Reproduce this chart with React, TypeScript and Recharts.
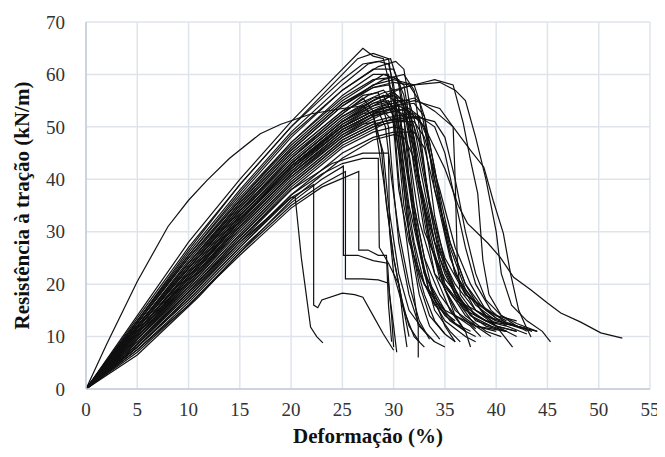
import React from "react";
import { LineChart, Line, XAxis, YAxis, CartesianGrid } from "recharts";

// Each curve: flat list of [strain %, strength kN/m] pairs
const LEFT_CURVE: number[] = [0,0, 2,8.5, 5,20.5, 8,31, 10,36, 11.8,39.8, 14,44, 17,48.7, 19,50.5, 22,52.5, 25,53.5, 27,54, 28,52, 29,45, 29.5,35, 30.5,22, 31.5,15, 33,11, 34,9];

const HIGH_PEAK_CURVES: number[][] = [
  [0,0, 5,14, 10,28, 15,40, 20,51, 24,59, 27,65, 28,63.5, 29,63, 30,55, 31,40, 32,28, 33,20, 35,14, 37,11],
  [0,0, 5,13.5, 10,27, 15,39, 20,50, 24,58, 26.5,63, 28,64, 29.5,63, 30.5,50, 31.5,35, 33,22, 35,15, 38,12, 41,11],
  [0,0, 5,13, 10,26, 15,38, 20,49, 25,58, 27.5,62, 29.7,63, 30.5,58, 31.5,45, 32.5,32, 34,22, 36,17, 39,13, 42,12, 43,11],
  [0,0, 5,13, 10,25.5, 15,37, 20,48, 25,57, 28,61, 30,61, 31,56, 32,42, 33,30, 35,21, 37,16, 40,13],
  [0,0, 5,12.5, 10,25, 15,36.5, 20,47, 25,56, 28,60, 29.5,60, 30,50, 30.5,38, 31.5,28, 33,20, 35,15],
  [0,0, 5,12.5, 10,25, 15,36, 20,46.5, 25,55, 29,60, 30.5,59, 31.5,48, 32.5,38, 34,28, 36,20, 38,15, 40,12.5],
  [0,0, 5,12, 10,24, 15,35.5, 20,46, 25,54.5, 29,59, 31,60, 32,57, 32.5,50, 33.5,35, 35,25, 37,18, 40,14, 42,13],
  [0,0, 5,12, 10,24, 15,35, 20,45.5, 25,54, 28,58, 30,59, 32,58, 33,52, 34,38, 35.5,25, 37,18, 39,15, 41,13],
  [0,0, 5,13, 10,26.5, 15,39, 20,50, 25,59, 27,62, 28.5,62.5, 29.5,62, 30,58, 30.8,45, 31.5,32, 32.5,22, 34,16, 36,13],
  [0,0, 5,12.5, 10,25.5, 15,37.5, 20,48.5, 25,57, 28.5,61.5, 30.2,62.5, 31,61, 31.5,55, 32.5,40, 33.5,28, 35,20, 37,15, 39,13, 41,12],
  [0,0, 5,12, 10,24.5, 15,36, 20,47, 25,55.5, 28,59, 30,59.5, 31,58, 31.5,52, 32.5,40, 33.5,28, 35,19, 36.5,14, 38,11.5],
  [0,0, 5,11.5, 10,23.5, 15,35, 20,45.5, 25,54, 28,57.5, 30,58.5, 31.5,58, 32.5,55, 33.5,45, 34.5,35, 35.5,27, 37,19, 39,14, 41,12.5, 43,11.5],
];

const MID_PEAK_CURVES: number[][] = [
  [0,0, 5,11.5, 10,23, 15,34, 20,44, 24,51, 26,54, 27,55.5, 28,53, 29,40, 30,25, 31,15, 32,10, 33,8],
  [0,0, 5,11, 10,22.5, 15,33.5, 20,43.5, 25,51.5, 28,55, 29,56, 30,52, 30.5,40, 31.5,25, 32.4,12, 32.4,6],
  [0,0, 5,11, 10,22, 15,33, 20,43, 25,51, 28,54.5, 30,56, 31,54, 32,45, 33,32, 34,22, 35.5,15, 37,11, 38,10],
  [0,0, 5,10.5, 10,21.5, 15,32.5, 20,42.5, 25,50.5, 28,54, 30,55, 31.5,55, 32.5,48, 33.5,35, 34.5,25, 36,18, 38,14, 40,12, 42,11],
  [0,0, 5,10.5, 10,21, 15,32, 20,42, 25,50, 28,53, 30,54, 32,54.5, 33,52, 34,42, 35,30, 36,22, 38,16, 40,13, 43,11.5],
  [0,0, 5,10, 10,20.5, 15,31.5, 20,41.5, 25,49.5, 28,52.5, 30,53.5, 31,52, 31.5,40, 32.5,28, 33.5,18, 35,13, 37,10, 38,9],
  [0,0, 5,10, 10,20, 15,31, 20,41, 25,49, 28,52, 30,53, 31,52.5, 32,48, 33,38, 34,28, 35,20, 37,14, 39,11, 40.5,10],
  [0,0, 5,9.5, 10,19.5, 15,30, 20,40, 25,48, 28,51, 30,52, 32,52.5, 33,50, 34,40, 35,30, 36,22, 38,15, 40,12, 41.6,8],
  [0,0, 5,9.5, 10,19, 15,29.5, 20,39.5, 25,47.5, 28,50.5, 30,51.5, 31.5,51, 32,45, 33,35, 34,26, 35,19, 36,14, 37,11, 37.5,8],
  [0,0, 5,9, 10,18.5, 15,29, 20,39, 25,47, 28,50, 30,51, 32,51, 33,48, 34.5,38, 36,27, 37.5,20, 39,15, 41,12, 43,10.5],
  [0,0, 5,8.5, 10,18, 15,28, 20,38, 25,46, 28,49, 30,50, 31,49.5, 31.5,44, 32,35, 33,25, 34,17, 35,12, 36,9],
  [0,0, 5,8, 10,17.5, 15,27.5, 20,37, 25,45, 28,48, 30,49, 32,49, 33,46, 34,38, 35.5,28, 37,20, 38.5,15, 40,12, 42,10],
  [0,0, 5,6.5, 11,17.6, 15,26, 20,36, 25,44, 28,47.5, 30,48.5, 31,48, 32,44, 33,36, 34,28, 35,22, 36.5,16, 38,12, 39.5,10],
  [0,0, 5,12, 10,23.5, 15,34.5, 20,45, 25,53, 27,56, 28.5,56.5, 29.5,50, 30,38, 30.5,28, 31.5,18, 32.5,12, 34,9, 35,8],
  [0,0, 5,11.5, 10,23, 15,34, 20,44.5, 25,52.5, 27.5,56, 29,57, 30,55, 31,46, 32,35, 33,25, 34.5,18, 36,14, 37.5,12, 38.5,10],
  [0,0, 5,11, 10,22, 15,33, 20,43, 25,51, 28,54, 29,55, 30,56.5, 31,55, 32,50, 33,40, 34,30, 35,23, 36.5,17, 38,13, 39.5,12],
  [0,0, 5,10, 10,21, 15,32, 20,42.5, 25,50.5, 28,53.5, 29.5,54.5, 30.5,53, 31,45, 32,32, 33,22, 34,15, 35.5,11, 36.5,9],
  [0,0, 5,9.5, 10,20, 15,31, 20,41, 25,49, 28,52.5, 30.5,54, 31.5,53, 32.5,47, 33.5,36, 34.5,27, 36,19, 37.5,14, 39,12, 41,11],
  [0,0, 5,9, 10,19, 15,29.5, 20,39.5, 25,47.5, 28,50.5, 31,52, 32.5,51.5, 33.5,47, 34.5,37, 35.5,28, 37,20, 38.5,16, 40,13.5, 42,12, 43.5,11],
  [0,0, 5,11, 10,22, 15,33, 20,43, 25,51, 28,54.5, 29.5,55, 30,53, 30.5,45, 31,35, 32,25, 33,18, 34,13, 35,10.5],
  [0,0, 5,10.5, 10,21.5, 15,32.5, 20,42.5, 25,50, 27,52.5, 28.5,53, 29.2,50, 29.8,40, 30.5,30, 31.5,20, 32.5,13, 33.5,9.5],
  [0,0, 5,8.5, 10,18.5, 15,29, 20,39, 25,47, 29,51, 32,52, 34,51, 35,48, 36,40, 37,30, 38,22, 39,17, 40.5,14, 42,12, 44,11],
  [0,0, 5,10.5, 10,21.5, 15,32, 20,42, 25,49.5, 27.5,52, 29,53, 30,51, 30.8,42, 31.5,30, 32.5,20, 33.5,14, 35,10.5, 36,9],
  [0,0, 5,11, 10,22.5, 15,33.5, 20,44, 25,52, 28,55.5, 29.5,56, 30.5,54, 31.2,44, 32,32, 33,22, 34.5,16, 36,12.5, 37.5,11],
  [0,0, 5,9.5, 10,19.5, 15,30.5, 20,40.5, 25,48.5, 29,52.5, 31.5,53.5, 32.5,52, 33.2,45, 34,33, 35,24, 36,18, 37.5,14, 39.5,12, 41,11],
  [0,0, 5,12, 10,24, 15,35.5, 20,46, 25,54.5, 28,57.5, 29.5,58, 30.3,56, 31,47, 31.8,35, 32.8,24, 34,17, 35.5,13, 37,11],
  [0,0, 5,10, 10,20, 15,30.5, 20,40.5, 25,48, 27,50.5, 28.2,51, 28.8,46, 29.3,35, 30,25, 30.8,17, 31.5,12, 32.5,9],
  [0,0, 5,9, 10,18.5, 15,28.5, 20,38.5, 25,46.5, 29,50.5, 32.5,52, 34,50, 35,45, 36,36, 37,27, 38,20, 39.5,15, 41,12.5, 42.5,11.5],
  [0,0, 5,11.5, 10,23, 15,34, 20,44, 25,52, 28.5,55.5, 30,56, 31,55, 31.8,50, 32.5,40, 33.5,29, 34.5,21, 36,15, 38,12, 40,11],
  [0,0, 5,10.5, 10,21.5, 15,32.5, 20,42.5, 25,50, 28,53, 29.5,54, 30.3,51, 30.9,40, 31.6,28, 32.5,18, 33.5,12, 34.5,9.5],
];

const EARLY_BREAK_CURVES: number[][] = [
  [0,0, 5,8, 10,17, 15,27, 20,36.5, 20.4,36.6, 21,25, 21.9,11.8, 22.5,10, 23.1,8.8],
  [0,0, 5,8, 10,17.5, 15,28, 20,36.5, 22.2,39, 22.2,16, 22.6,15.5, 23,17, 25,18.3, 26.2,18, 27,17.5, 28,14, 29,10.5, 30,7.4],
  [0,0, 5,7.5, 10,16.5, 15,26.5, 20,35.5, 23,40, 25.1,42.5, 25.1,25.5, 26.5,25.5, 28,24.5, 29.4,24, 29.6,18, 30,12, 30.3,7],
  [0,0, 5,7.5, 10,16, 15,26, 20,35, 23,39, 25.3,41.5, 25.3,21, 27,21, 28.5,20.8, 29.5,20.2, 29.8,14, 30,8],
  [0,0, 5,7, 10,16, 15,25.5, 20,34.5, 23,38.5, 26.6,41.5, 26.6,26.5, 27.5,26.5, 28.5,25.5, 29.3,25.5, 29.5,16, 29.8,9],
  [0,0, 5,8, 10,17, 15,27, 20,37, 23,41, 25,43, 27,44, 28.5,44, 28.6,27, 29.5,24, 30.5,20, 31,12, 31.3,8],
  [0,0, 5,8.5, 10,18, 15,28.5, 20,38, 24,43, 27,45, 29.5,45, 29.6,30, 30,22, 31,15, 31.5,10],
];

const LONG_TAIL_CURVES: number[][] = [
  [0,0, 5,11, 10,22, 15,33, 20,43, 25,51, 28,55, 31,57.5, 33,58.5, 34,59, 35.8,58, 36.8,50.6, 37.5,43.6, 38.2,37.3, 38.7,24.6, 39.3,18, 40.5,14, 42,12.5, 44,11],
  [0,0, 5,10.5, 10,21, 15,32, 20,42, 25,50, 29,54, 32,55.5, 34,53, 35.8,50, 37.5,45.5, 38.8,42.3, 39.7,36, 40.7,29.7, 41.4,22, 42.2,15, 43,11.5, 43.4,9.9],
  [0,0, 5,10, 10,20.5, 15,31, 20,41, 25,48.5, 28,52, 30,53.5, 31.5,53, 33,50, 35,42, 36.3,35, 37.2,31.6, 39.2,27.8, 40.4,25.1, 41.7,21.3, 43.4,18.9, 45,16.4, 46.3,14.5, 48.2,12.8, 50.2,10.7, 52.3,9.7],
  [0,0, 5,11.5, 10,23, 15,34.5, 20,45, 25,53, 29,56.5, 32,58, 34.5,58.5, 36,57, 37,55, 38,48, 39,40, 40,30, 40.5,22, 41.5,16, 43,13, 44.5,11, 45.3,9],
  [0,0, 5,10, 10,20.5, 15,31.5, 20,41.5, 25,49.5, 29,53.5, 32,55, 34.5,53.5, 35.8,50, 36,40, 36.2,25, 36.5,18, 38,14, 40,12, 42,11],
];

const X_TICKS = [0, 5, 10, 15, 20, 25, 30, 35, 40, 45, 50, 55];
const Y_TICKS = [0, 10, 20, 30, 40, 50, 60, 70];
const X_TITLE = "Deformação (%)";
const Y_TITLE = "Resistência à tração (kN/m)";

const toPoints = (flat: number[]) => {
  const out: { x: number; y: number }[] = [];
  for (let i = 0; i < flat.length; i += 2) out.push({ x: flat[i], y: flat[i + 1] });
  return out;
};

const ALL_CURVES = [LEFT_CURVE, ...HIGH_PEAK_CURVES, ...MID_PEAK_CURVES, ...EARLY_BREAK_CURVES, ...LONG_TAIL_CURVES].map(toPoints);

const FONT = "'Liberation Serif', 'Times New Roman', serif";

export default function App() {
  return (
    <LineChart width={657} height={441} margin={{ top: 14, right: 15, bottom: 0, left: 0 }}>
      <CartesianGrid stroke="#dfe4ec" strokeWidth={1.5} horizontal vertical />
      <XAxis
        type="number"
        dataKey="x"
        domain={[0, 55]}
        ticks={X_TICKS}
        interval={0}
        height={60}
        tickLine={false}
        tickSize={6}
        tickMargin={8}
        axisLine={{ stroke: "#c3cddb", strokeWidth: 1.5 }}
        tick={{ fill: "#333", fontSize: 19, fontFamily: FONT }}
        allowDataOverflow
        label={{ value: X_TITLE, position: "insideBottom", offset: 6, style: { fontFamily: FONT, fontSize: 21, fontWeight: "bold", fill: "#111" } }}
      />
      <YAxis
        type="number"
        domain={[0, 70]}
        ticks={Y_TICKS}
        interval={0}
        width={78}
        tickLine={false}
        tickSize={6}
        tickMargin={15}
        axisLine={{ stroke: "#c3cddb", strokeWidth: 1.5 }}
        tick={{ fill: "#333", fontSize: 19, fontFamily: FONT }}
        allowDataOverflow
        label={{ value: Y_TITLE, angle: -90, position: "insideLeft", offset: 14, style: { textAnchor: "middle", fontFamily: FONT, fontSize: 21, fontWeight: "bold", fill: "#111" } }}
      />
      {ALL_CURVES.map((pts, i) => (
        <Line
          key={i}
          data={pts}
          dataKey="y"
          type="linear"
          stroke="#111"
          strokeWidth={1.2}
          dot={false}
          activeDot={false}
          isAnimationActive={false}
        />
      ))}
    </LineChart>
  );
}
